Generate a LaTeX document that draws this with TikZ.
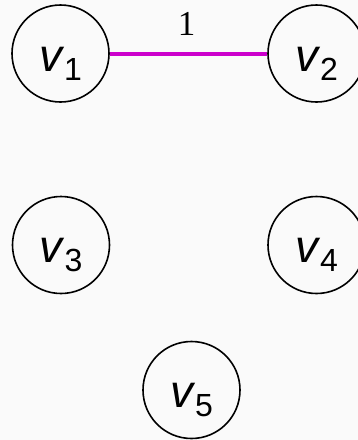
\documentclass[tikz,border=0pt]{standalone}
\usepackage{fontspec}
\newfontfamily\labfont{Liberation Sans}
\newfontfamily\numfont{Liberation Serif}
\definecolor{edgemag}{HTML}{CC00CC}
\definecolor{bg}{HTML}{FAFAFA}
\newcommand\vlab[1]{{\labfont\fontsize{46}{50}\selectfont\rule{0pt}{44pt}\itshape v\/\raisebox{-9pt}{\upshape\fontsize{32}{34}\selectfont #1}}}
\tikzset{
  vert/.style={draw=black, line width=1.6pt, circle, minimum size=97pt, inner sep=0pt},
  wedge/.style={draw=edgemag, line width=4pt},
  wlab/.style={font=\numfont\fontsize{35}{37}\selectfont, inner sep=0pt}
}
\begin{document}
\begin{tikzpicture}[x=1pt,y=-1pt]
\fill[bg] (0,0) rectangle (358,440);
\useasboundingbox (0,0) rectangle (358,440);
\node[vert] (v1) at (60.5,53.5) {\vlab{1}};
\node[vert] (v2) at (316.5,53.5) {\vlab{2}};
\node[vert] (v3) at (61,245) {\vlab{3}};
\node[vert] (v4) at (316.5,245) {\vlab{4}};
\node[vert] (v5) at (191.5,390) {\vlab{5}};
\draw[wedge] (v1) -- node[wlab, midway, anchor=base, yshift=18.5pt, xshift=-2pt] (w12) {1} (v2);
\end{tikzpicture}
\end{document}
